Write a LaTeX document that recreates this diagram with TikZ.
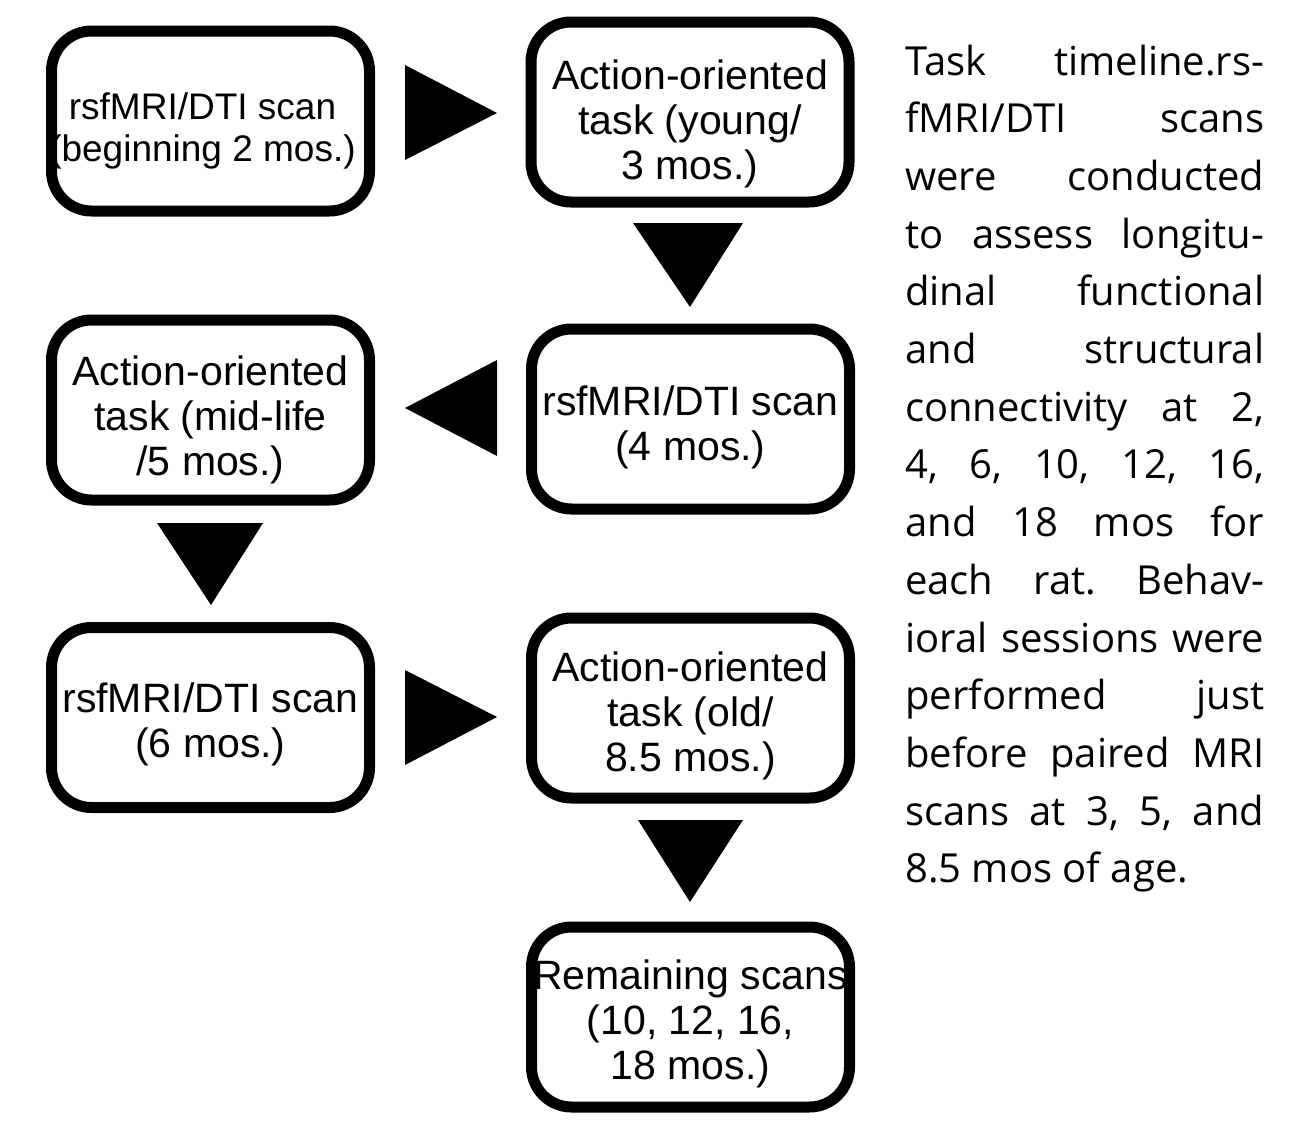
\documentclass[tikz,border=0pt]{standalone}
\usepackage{fontspec}
\setmainfont{Liberation Sans}
\newfontfamily\parafont{Open Sans}
\newcommand\jlline[1]{\hbox to 359pt{#1}}
\newcommand\wgap{\hskip 0.22em plus 1fil\relax}
\tikzset{
  box/.style={draw=black, line width=11pt, rounded corners=40pt, minimum width=318pt, minimum height=180pt, inner sep=0pt, fill=white},
  lbl/.style={align=center, inner sep=0pt, font=\fontsize{41}{45}\selectfont},
  tri/.style={fill=black, draw=none},
}
\begin{document}
\begin{tikzpicture}[x=1pt,y=-1pt]
\fill[white] (0,0) rectangle (1302,1138);
\useasboundingbox (0,0) rectangle (1302,1138);
% boxes
\node[box] (b1) at (210.5,121) {};
\node[box] (b2) at (690,112) {};
\node[box] (b3) at (690.5,419) {};
\node[box] (b4) at (210.5,410) {};
\node[box] (b5) at (210.5,717.5) {};
\node[box] (b6) at (690.5,708) {};
\node[box] (b7) at (690.5,1017) {};
% labels
\node[lbl, font=\fontsize{37}{42}\selectfont] (t1) at ([xshift=-8pt,yshift=-10pt]b1.center) {rsfMRI/DTI scan\\(beginning 2 mos.)};
\node[lbl] (t2) at ([yshift=-12pt]b2.center) {Action-oriented\\task (young/\\3 mos.)};
\node[lbl] (t3) at ([yshift=-8pt]b3.center) {rsfMRI/DTI scan\\(4 mos.)};
\node[lbl] (t4) at ([yshift=-10pt]b4.center) {Action-oriented\\task (mid-life\\/5 mos.)};
\node[lbl] (t5) at ([yshift=-7pt]b5.center) {rsfMRI/DTI scan\\(6 mos.)};
\node[lbl] (t6) at ([yshift=-8pt]b6.center) {Action-oriented\\task (old/\\8.5 mos.)};
\node[lbl] (t7) at ([yshift=-7pt]b7.center) {Remaining scans\\(10, 12, 16,\\18 mos.)};
% triangle arrows
\fill[tri] (405,65) -- (405,160) -- (497,113) -- cycle;
\fill[tri] (633,223) -- (743,223) -- (690,307) -- cycle;
\fill[tri] (497,360) -- (497,456) -- (405,408) -- cycle;
\fill[tri] (157,523) -- (263,523) -- (211,605) -- cycle;
\fill[tri] (405,670) -- (405,765) -- (497,717) -- cycle;
\fill[tri] (638,820) -- (743,820) -- (690,902) -- cycle;
% paragraph
\node[anchor=base west, inner sep=0pt] (para) at (905,75) {\begin{minipage}[t]{359pt}\parafont\fontsize{40}{57.7}\selectfont
\jlline{Task\wgap timeline.rs-}
\jlline{fMRI/DTI\wgap scans}
\jlline{were\wgap conducted}
\jlline{to\wgap assess\wgap longitu-}
\jlline{dinal\wgap functional}
\jlline{and\wgap structural}
\jlline{connectivity\wgap at\wgap 2,}
\jlline{4,\wgap 6,\wgap 10,\wgap 12,\wgap 16,}
\jlline{and\wgap 18\wgap mos\wgap for}
\jlline{each\wgap rat.\wgap Behav-}
\jlline{ioral\wgap sessions\wgap were}
\jlline{performed\wgap just}
\jlline{before\wgap paired\wgap MRI}
\jlline{scans\wgap at\wgap 3,\wgap 5,\wgap and}
\hbox{8.5 mos of age.}
\end{minipage}};
\end{tikzpicture}
\end{document}
